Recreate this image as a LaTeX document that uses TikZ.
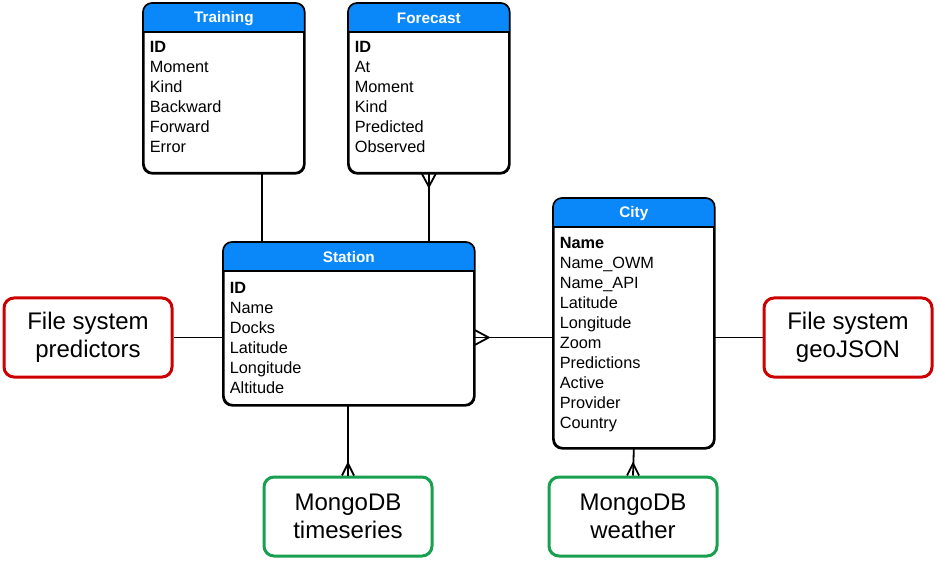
\documentclass[tikz,border=0pt]{standalone}
\usepackage{fontspec}
\setmainfont{Liberation Sans}
\usetikzlibrary{positioning,calc}
\definecolor{hdrblue}{HTML}{0A88FA}
\definecolor{fsred}{HTML}{CC0000}
\definecolor{dbgreen}{HTML}{17A050}

\begin{document}
\begin{tikzpicture}[x=1pt, y=-1pt, line width=1.7pt]
\tikzstyle{entity}=[draw=black, fill=white, rounded corners=9pt, inner sep=0pt, anchor=north west]
\tikzstyle{field}=[anchor=west, inner sep=0pt, font=\fontsize{16.3}{20}\selectfont, align=left]
\tikzstyle{title}=[text=white, font=\fontsize{15.3}{18}\selectfont\bfseries, inner sep=0pt]
\tikzstyle{store}=[draw, line width=3pt, rounded corners=10pt, fill=white, minimum width=168pt, minimum height=79pt, align=center, font=\fontsize{24}{28}\selectfont]
\tikzstyle{conn}=[line width=1.8pt]
\useasboundingbox (0,0) rectangle (937,561);

% entities: name/x/y/width/height/title
\foreach \n/\x/\y/\w/\h/\t in {training/143/3/160/169/Training, forecast/348/3/160/169/Forecast,
    station/223/242/250/162/Station, city/553/198/160/249/City}{
  \node[entity, minimum width=\w pt, minimum height=\h pt] (\n) at (\x,\y) {};
  \begin{scope}
    \clip[rounded corners=9pt] (\n.north west) rectangle (\n.south east);
    \fill[hdrblue] (\n.north west) rectangle ($(\n.north east)+(0,29)$);
  \end{scope}
  \draw ($(\n.north west)+(0,29)$) -- ($(\n.north east)+(0,29)$);
  \draw[rounded corners=9pt] (\n.north west) rectangle (\n.south east);
  \node[title] (\n-t) at ($(\n.north)+(0,15.5)$) {\t};
}

% fields
\node[field] (training-f) at ($(training.north west)+(6,94)$) {\textbf{ID}\\Moment\\Kind\\Backward\\Forward\\Error};
\node[field] (forecast-f) at ($(forecast.north west)+(6,94)$) {\textbf{ID}\\At\\Moment\\Kind\\Predicted\\Observed};
\node[field] (station-f) at ($(station.north west)+(6,95.5)$) {\textbf{ID}\\Name\\Docks\\Latitude\\Longitude\\Altitude};
\node[field] (city-f) at ($(city.north west)+(6,136.5)$) {\textbf{Name}\\Name\_OWM\\Name\_API\\Latitude\\Longitude\\Zoom\\Predictions\\Active\\Provider\\Country};

% storage
\node[store, draw=fsred]   (pred)    at (88,337.5)  {File system\\predictors};
\node[store, draw=fsred]   (geojson) at (848,337.5) {File system\\geoJSON};
\node[store, draw=dbgreen] (series)  at (348,516.5) {MongoDB\\timeseries};
\node[store, draw=dbgreen] (weather) at (633,516.5) {MongoDB\\weather};

% connectors
\draw[conn] (training.south -| 262,0) -- (station.north -| 262,0);
\draw[conn] (forecast.south) -- (forecast.south |- station.north);
\draw[conn] ($(forecast.south)+(-7,0)$) -- ($(forecast.south)+(0,13)$) -- ($(forecast.south)+(7,0)$);
\draw[conn] (pred.east) -- (pred.east -| station.west);
\draw[conn] (station.east |- pred.east) -- (city.west |- pred.east);
\draw[conn] ($(station.east |- pred.east)+(0,-7.5)$) -- ($(station.east |- pred.east)+(14,0)$) -- ($(station.east |- pred.east)+(0,7.5)$);
\draw[conn] (city.east |- geojson.west) -- (geojson.west);
\draw[conn] (station.south -| series.north) -- (series.north);
\draw[conn] ($(series.north)+(-6,0)$) -- ($(series.north)+(0,-12)$) -- ($(series.north)+(6,0)$);
\draw[conn] (city.south) -- (weather.north);
\draw[conn] ($(weather.north)+(-6,0)$) -- ($(weather.north)+(0,-12)$) -- ($(weather.north)+(6,0)$);
\end{tikzpicture}
\end{document}
